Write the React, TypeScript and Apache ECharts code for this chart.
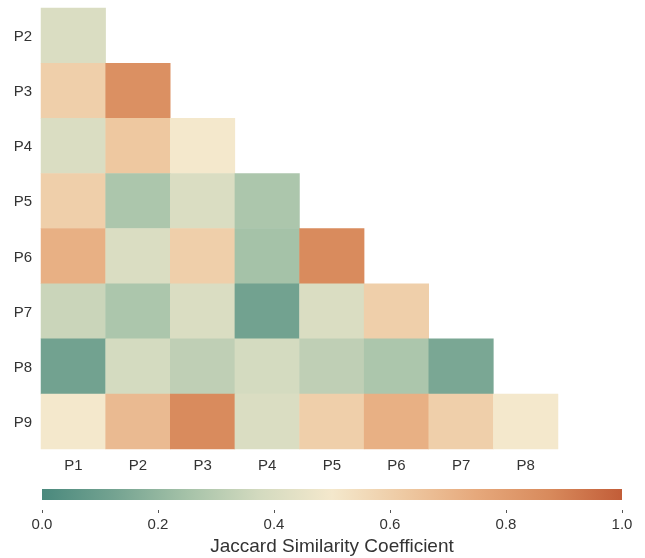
import React, { useEffect, useRef } from "react";
import * as echarts from "echarts";

const xCategories = ["P1", "P2", "P3", "P4", "P5", "P6", "P7", "P8"];
const yCategories = ["P2", "P3", "P4", "P5", "P6", "P7", "P8", "P9"];
// lower-triangle values, row by row (row i has i+1 entries)
const rowP2 = [0.4];
const rowP3 = [0.6, 0.85];
const rowP4 = [0.4, 0.63, 0.5];
const rowP5 = [0.6, 0.27, 0.4, 0.27];
const rowP6 = [0.72, 0.4, 0.6, 0.25, 0.87];
const rowP7 = [0.35, 0.27, 0.4, 0.12, 0.4, 0.6];
const rowP8 = [0.12, 0.38, 0.32, 0.38, 0.32, 0.27, 0.14];
const rowP9 = [0.5, 0.68, 0.87, 0.4, 0.6, 0.72, 0.6, 0.5];
const rows = [rowP2, rowP3, rowP4, rowP5, rowP6, rowP7, rowP8, rowP9];
const colorbarTicks = [0, 0.2, 0.4, 0.6, 0.8, 1.0];
const colorStops = [
  "#4a897d", "#74a391", "#a5c2a8", "#d3dabf", "#f4e8cc",
  "#eec9a2", "#e6a87b", "#d88a5c", "#c25d38",
];

export default function App() {
  const ref = useRef<HTMLDivElement>(null);
  useEffect(() => {
    if (!ref.current) return;
    const chart = echarts.init(ref.current, null, { renderer: "svg" });
    const data: number[][] = [];
    rows.forEach((r, yi) => r.forEach((v, xi) => data.push([xi, yi, v])));
    const font = "'Liberation Sans', Arial, sans-serif";
    chart.setOption({
      animation: false,
      textStyle: { fontFamily: font },
      grid: [
        { left: 41, top: 8, width: 517, height: 441 },
        { left: 42, top: 500, width: 580, height: 10 },
      ],
      xAxis: [
        {
          type: "category",
          gridIndex: 0,
          data: xCategories,
          axisLine: { show: false },
          axisTick: { show: false },
          axisLabel: { color: "#333", fontSize: 15, margin: 8, fontFamily: font },
          splitLine: { show: false },
        },
        {
          type: "value",
          gridIndex: 1,
          min: 0,
          max: 1,
          interval: 0.2,
          axisLine: { show: false },
          axisTick: { show: true, length: 3, lineStyle: { color: "#555", width: 1 } },
          axisLabel: {
            color: "#333",
            fontSize: 15,
            margin: 6,
            fontFamily: font,
            formatter: (v: number) => v.toFixed(1),
            customValues: colorbarTicks,
          },
          splitLine: { show: false },
          name: "Jaccard Similarity Coefficient",
          nameLocation: "middle",
          nameGap: 26,
          nameTextStyle: { color: "#333", fontSize: 19, fontFamily: font },
        },
      ],
      yAxis: [
        {
          type: "category",
          gridIndex: 0,
          data: yCategories,
          inverse: true,
          axisLine: { show: false },
          axisTick: { show: false },
          axisLabel: { color: "#333", fontSize: 15, margin: 9, fontFamily: font },
          splitLine: { show: false },
        },
        {
          type: "value",
          gridIndex: 1,
          show: false,
          min: 0,
          max: 1,
        },
      ],
      visualMap: {
        show: false,
        type: "continuous",
        min: 0,
        max: 1,
        seriesIndex: 0,
        inRange: { color: colorStops },
      },
      graphic: [
        {
          type: "rect",
          shape: { x: 42, y: 489, width: 580, height: 11 },
          style: {
            fill: new echarts.graphic.LinearGradient(
              0, 0, 1, 0,
              colorStops.map((c, i) => ({ offset: i / (colorStops.length - 1), color: c }))
            ),
          },
          silent: true,
        },
      ],
      series: [
        {
          type: "heatmap",
          xAxisIndex: 0,
          yAxisIndex: 0,
          data,
          itemStyle: { borderWidth: 0 },
          emphasis: { disabled: true },
        },
      ],
    });
    return () => chart.dispose();
  }, []);
  return (
    <div
      ref={ref}
      style={{ position: "fixed", left: 0, top: 0, width: 645, height: 558 }}
    />
  );
}
